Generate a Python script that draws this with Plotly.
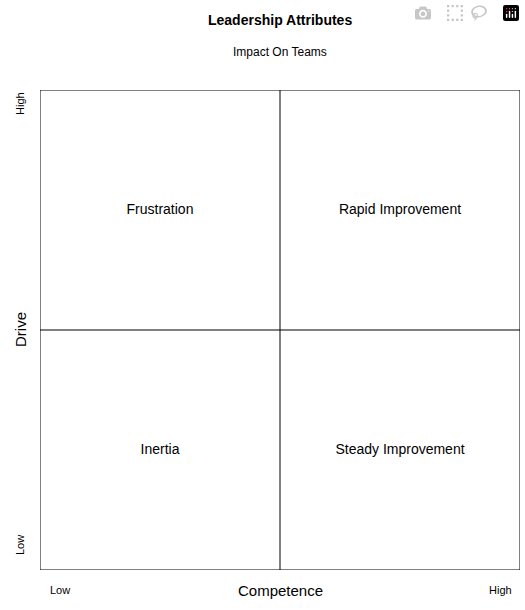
import plotly.graph_objects as go

quadrant_names = ["Frustration", "Rapid Improvement", "Inertia", "Steady Improvement"]
quadrant_x = [0.25, 0.75, 0.25, 0.75]
quadrant_y = [0.75, 0.75, 0.25, 0.25]
x_labels = ["Low", "High"]
y_labels = ["Low", "High"]

F = "Liberation Sans, Arial, sans-serif"
fig = go.Figure()
fig.add_trace(go.Scatter(x=quadrant_x, y=quadrant_y, text=quadrant_names, mode="text",
                         textfont=dict(family=F, size=14, color="#000"), hoverinfo="skip"))
line = dict(color="#000", width=1)
fig.add_shape(type="rect", x0=0, x1=1, y0=0, y1=1, line=line)
fig.add_shape(type="line", x0=0.5, x1=0.5, y0=0, y1=1, line=line)
fig.add_shape(type="line", x0=0, x1=1, y0=0.5, y1=0.5, line=line)

W, H = 525, 610
L, R, T, B = 40, 5, 90, 40
def px(x): return (x - L) / (W - L - R)
def py(y): return (H - B - y) / (H - T - B)
ann = [
    dict(x=px(280), y=py(20), text="<b>Leadership Attributes</b>", size=14, angle=0),
    dict(x=px(280), y=py(52), text="Impact On Teams", size=12, angle=0),
    dict(x=px(60), y=py(590), text=x_labels[0], size=11, angle=0),
    dict(x=px(500), y=py(590), text=x_labels[1], size=11, angle=0),
    dict(x=px(280), y=py(590), text="Competence", size=15, angle=0),
    dict(x=px(20), y=py(545), text=y_labels[0], size=11, angle=-90),
    dict(x=px(20), y=py(104), text=y_labels[1], size=11, angle=-90),
    dict(x=px(20), y=py(330), text="Drive", size=15, angle=-90),
]
for a in ann:
    fig.add_annotation(x=a["x"], y=a["y"], xref="paper", yref="paper", text=a["text"],
                       textangle=a["angle"], showarrow=False,
                       font=dict(family=F, size=a["size"], color="#000"),
                       xanchor="center", yanchor="middle")
fig.update_xaxes(range=[0, 1], visible=False, fixedrange=True)
fig.update_yaxes(range=[0, 1], visible=False, fixedrange=True)
fig.update_layout(width=W, height=H, margin=dict(l=L, r=R, t=T, b=B),
                  plot_bgcolor="white", paper_bgcolor="white", showlegend=False)
fig.write_html("out.html",
               post_script="document.body.style.margin='0';document.body.style.overflow='hidden';")
